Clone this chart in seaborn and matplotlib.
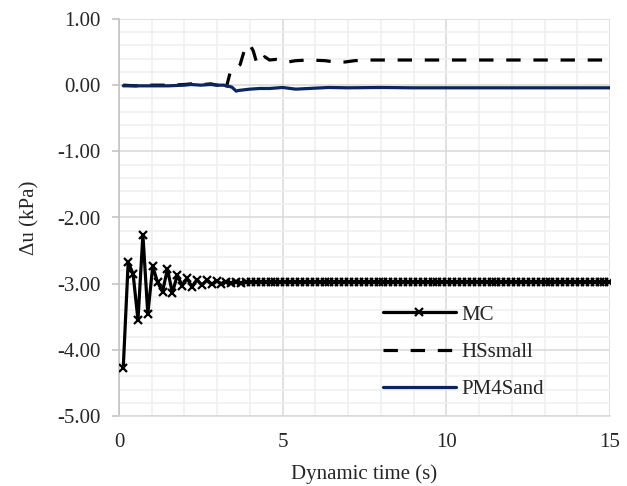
import matplotlib
matplotlib.use("Agg")
import matplotlib.pyplot as plt
import seaborn as sns
import pandas as pd
from matplotlib.ticker import MultipleLocator, FixedLocator

# ---------------- data ----------------
mc_time = [0.13, 0.28, 0.43, 0.58, 0.73, 0.88, 1.03, 1.18, 1.33, 1.48,
           1.63, 1.78, 1.93, 2.08, 2.23, 2.38, 2.53, 2.68, 2.83, 2.98,
           3.13, 3.28, 3.43, 3.58, 3.73, 3.88, 4.03, 4.18, 4.33, 4.48,
           4.63, 4.78, 4.93, 5.08, 5.23, 5.38, 5.53, 5.68, 5.83, 5.98,
           6.13, 6.28, 6.43, 6.58, 6.73, 6.88, 7.03, 7.18, 7.33, 7.48,
           7.63, 7.78, 7.93, 8.08, 8.23, 8.38, 8.53, 8.68, 8.83, 8.98,
           9.13, 9.28, 9.43, 9.58, 9.73, 9.88, 10.03, 10.18, 10.33, 10.48,
           10.63, 10.78, 10.93, 11.08, 11.23, 11.38, 11.53, 11.68, 11.83, 11.98,
           12.13, 12.28, 12.43, 12.58, 12.73, 12.88, 13.03, 13.18, 13.33, 13.48,
           13.63, 13.78, 13.93, 14.08, 14.23, 14.38, 14.53, 14.68, 14.83, 14.98]
mc_du = [-4.27, -2.68, -2.85, -3.55, -2.26, -3.46, -2.74, -2.98, -3.12, -2.78,
         -3.14, -2.87, -3.03, -2.92, -3.05, -2.94, -3.02, -2.95, -3.01, -2.96,
         -3.00, -2.97, -2.99, -2.97, -2.99, -2.97, -2.98, -2.97, -2.98, -2.97,
         -2.98, -2.97, -2.98, -2.97, -2.98, -2.97, -2.98, -2.97, -2.98, -2.97,
         -2.98, -2.97, -2.98, -2.97, -2.98, -2.97, -2.98, -2.97, -2.98, -2.97,
         -2.98, -2.97, -2.98, -2.97, -2.98, -2.97, -2.98, -2.97, -2.98, -2.97,
         -2.98, -2.97, -2.98, -2.97, -2.98, -2.97, -2.98, -2.97, -2.98, -2.97,
         -2.98, -2.97, -2.98, -2.97, -2.98, -2.97, -2.98, -2.97, -2.98, -2.97,
         -2.98, -2.97, -2.98, -2.97, -2.98, -2.97, -2.98, -2.97, -2.98, -2.97,
         -2.98, -2.97, -2.98, -2.97, -2.98, -2.97, -2.98, -2.97, -2.98, -2.97]

hs_time = [0.13, 0.5, 1.0, 1.5, 2.0, 2.2, 2.4, 2.6, 2.8, 3.0, 3.13, 3.25, 3.4,
           3.55, 3.7, 3.85, 4.0, 4.1, 4.2, 4.35, 4.45, 4.6, 4.8, 5.0, 5.15,
           5.4, 5.8, 6.3, 6.6, 6.9, 7.2, 7.5, 8.0, 9.0, 10.0, 11.0, 12.0,
           13.0, 14.0, 15.0]
hs_du = [0.0, -0.01, 0.0, 0.0, 0.01, 0.02, 0.0, 0.01, 0.02, 0.0, -0.02, -0.09,
         0.20, 0.24, 0.31, 0.56, 0.61, 0.52, 0.35, 0.33, 0.43, 0.38, 0.39, 0.37,
         0.35, 0.37, 0.38, 0.37, 0.35, 0.35, 0.37, 0.38, 0.38, 0.38, 0.38, 0.38,
         0.38, 0.38, 0.38, 0.38]

pm_time = [0.13, 0.5, 1.0, 1.5, 2.0, 2.2, 2.5, 2.8, 3.0, 3.2, 3.3, 3.45, 3.58,
           3.65, 4.0, 4.3, 4.6, 5.0, 5.4, 5.8, 6.4, 7.0, 8.0, 9.0, 10.0, 11.0,
           12.0, 13.0, 14.0, 15.0]
pm_du = [-0.01, -0.01, -0.01, -0.01, 0.0, 0.01, 0.0, 0.01, 0.0, 0.0, -0.01,
         -0.03, -0.09, -0.08, -0.06, -0.05, -0.05, -0.035, -0.06, -0.05, -0.035,
         -0.04, -0.035, -0.04, -0.04, -0.04, -0.04, -0.04, -0.04, -0.04]

series_names = ["MC", "HSsmall", "PM4Sand"]
x_ticks = [0, 5, 10, 15]
x_tick_labels = ["0", "5", "10", "15"]
y_ticks = [1.0, 0.0, -1.0, -2.0, -3.0, -4.0, -5.0]
y_tick_labels = ["1.00", "0.00", "-1.00", "-2.00", "-3.00", "-4.00", "-5.00"]
x_label = "Dynamic time (s)"
y_label = "\u0394u (kPa)"

# ---------------- style ----------------
sns.set_style("white")
plt.rcParams["font.family"] = ["Liberation Serif", "DejaVu Serif"]
FS = 15

fig = plt.figure(figsize=(6.27, 4.86), dpi=100)
W, H = 627, 486
ax = fig.add_axes([119 / W, 1 - 416 / H, (610 - 119) / W, (416 - 19) / H])

df_mc = pd.DataFrame({"t": mc_time, "du": mc_du})
df_hs = pd.DataFrame({"t": hs_time, "du": hs_du})
df_pm = pd.DataFrame({"t": pm_time, "du": pm_du})

sns.lineplot(data=df_mc, x="t", y="du", ax=ax, color="black", lw=2.3,
             marker="x", markersize=5.5, markeredgewidth=1.6,
             markeredgecolor="black", label=series_names[0],
             sort=False, estimator=None, zorder=3)
sns.lineplot(data=df_hs, x="t", y="du", ax=ax, color="black", lw=2.3,
             linestyle=(0, (4.5, 4.0)), label=series_names[1],
             sort=False, estimator=None, zorder=4)
sns.lineplot(data=df_pm, x="t", y="du", ax=ax, color="#0B2560", lw=2.3,
             label=series_names[2], sort=False, estimator=None, zorder=5)

ax.set_xlim(0, 15)
ax.set_ylim(-5, 1)
ax.xaxis.set_major_locator(FixedLocator(x_ticks))
ax.set_xticklabels(x_tick_labels)
ax.yaxis.set_major_locator(FixedLocator(y_ticks))
ax.set_yticklabels(y_tick_labels)
ax.xaxis.set_minor_locator(MultipleLocator(1))
ax.yaxis.set_minor_locator(MultipleLocator(0.2))

ax.grid(which="minor", color="#efefef", lw=1.1, zorder=0)
ax.grid(which="major", color="#d9d9d9", lw=1.1, zorder=0)
ax.set_axisbelow(True)

for s in ["top", "right"]:
    ax.spines[s].set_visible(False)
ax.spines["left"].set_color("#bfbfbf")
ax.spines["left"].set_linewidth(1.1)
ax.spines["bottom"].set_color("#d9d9d9")
ax.spines["bottom"].set_linewidth(1.1)

ax.tick_params(axis="y", which="major", length=5, width=1.1, color="#bfbfbf",
               labelsize=FS, pad=8, direction="out", left=True)
ax.tick_params(axis="x", which="major", length=0, labelsize=FS, pad=12)
ax.tick_params(which="minor", length=0)

ax.set_xlabel(x_label, fontsize=FS, labelpad=9)
ax.set_ylabel(y_label, fontsize=FS, labelpad=13)

ax.legend(loc="upper left", bbox_to_anchor=(383 / W, 1 - 305 / H),
          bbox_transform=fig.transFigure, frameon=False, fontsize=FS,
          handlelength=3.5, handletextpad=0.25, labelspacing=0.85,
          borderpad=0, borderaxespad=0)

fig.savefig("out.png", dpi=100)
